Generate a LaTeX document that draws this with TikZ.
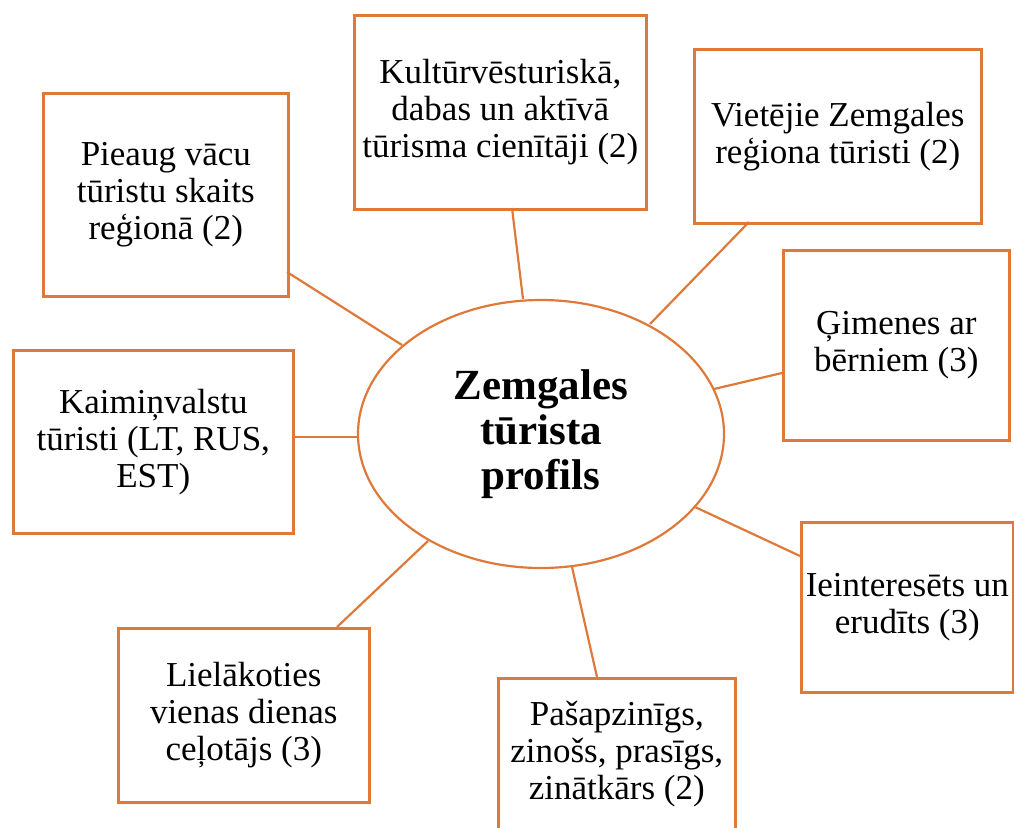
\documentclass[tikz,border=0pt]{standalone}
\usepackage{fontspec}
\setmainfont{Liberation Serif}
\usetikzlibrary{shapes.geometric}
\definecolor{accent}{RGB}{222,121,58}
\begin{document}
\begin{tikzpicture}[x=1pt,y=-1pt,
  boxst/.style={draw=accent,line width=2.6pt,fill=white,anchor=north west,inner sep=0pt},
  txt/.style={align=center,font=\fontsize{35}{37}\selectfont},
  link/.style={draw=accent,line width=2.2pt}]
\useasboundingbox (0,0) rectangle (1014,827);
\begin{scope}
\clip (0,0) rectangle (1014,827);
% central ellipse
\node[ellipse,draw=accent,line width=2.2pt,minimum width=366pt,minimum height=268pt,inner sep=0pt,
  align=center,font=\bfseries\fontsize{43}{45}\selectfont] (c) at (541,434) {Zemgales\\tūrista\\profils};
% boxes
\node[boxst,minimum width=245pt,minimum height=203pt] (b1) at (42,92) {};
\node[txt] (t1) at (b1.center) {Pieaug vācu\\tūristu skaits\\reģionā (2)};
\node[boxst,minimum width=292pt,minimum height=194pt] (b2) at (353,14) {};
\node[txt] (t2) at (b2.center) {Kultūrvēsturiskā,\\dabas un aktīvā\\tūrisma cienītāji (2)};
\node[boxst,minimum width=287pt,minimum height=174pt] (b3) at (693,48) {};
\node[txt] (t3) at (b3.center) {Vietējie Zemgales\\reģiona tūristi (2)};
\node[boxst,minimum width=226pt,minimum height=190pt] (b4) at (782,249) {};
\node[txt] (t4) at (b4.center) {Ģimenes ar\\bērniem (3)};
\node[boxst,minimum width=280pt,minimum height=183pt] (b5) at (12,349) {};
\node[txt] (t5) at (b5.center) {Kaimiņvalstu\\tūristi (LT, RUS,\\EST)};
\node[boxst,minimum width=212pt,minimum height=170pt] (b6) at (800,521) {};
\node[txt] (t6) at (b6.center) {Ieinteresēts un\\erudīts (3)};
\node[boxst,minimum width=251pt,minimum height=174pt] (b7) at (117,627) {};
\node[txt] (t7) at (b7.center) {Lielākoties\\vienas dienas\\ceļotājs (3)};
\node[boxst,minimum width=237pt,minimum height=152pt] (b8) at (497,677) {};
\node[txt] (t8) at (b8.center) {Pašapzinīgs,\\zinošs, prasīgs,\\zinātkārs (2)};
% connector endpoints
\coordinate (e1) at (402,345); \coordinate (s1) at (287,272);
\coordinate (e2) at (523,299); \coordinate (s2) at (512,208);
\coordinate (e3) at (650,324); \coordinate (s3) at (749,222);
\coordinate (e4) at (714,389); \coordinate (s4) at (782,373);
\coordinate (e5) at (358,437); \coordinate (s5) at (292,437);
\coordinate (e6) at (695,507); \coordinate (s6) at (800,556);
\coordinate (e7) at (428,541); \coordinate (s7) at (337,627);
\coordinate (e8) at (572,567); \coordinate (s8) at (597,677);
\foreach \i in {1,...,8} {\draw[link] (s\i) -- (e\i);}
\end{scope}
\end{tikzpicture}
\end{document}
